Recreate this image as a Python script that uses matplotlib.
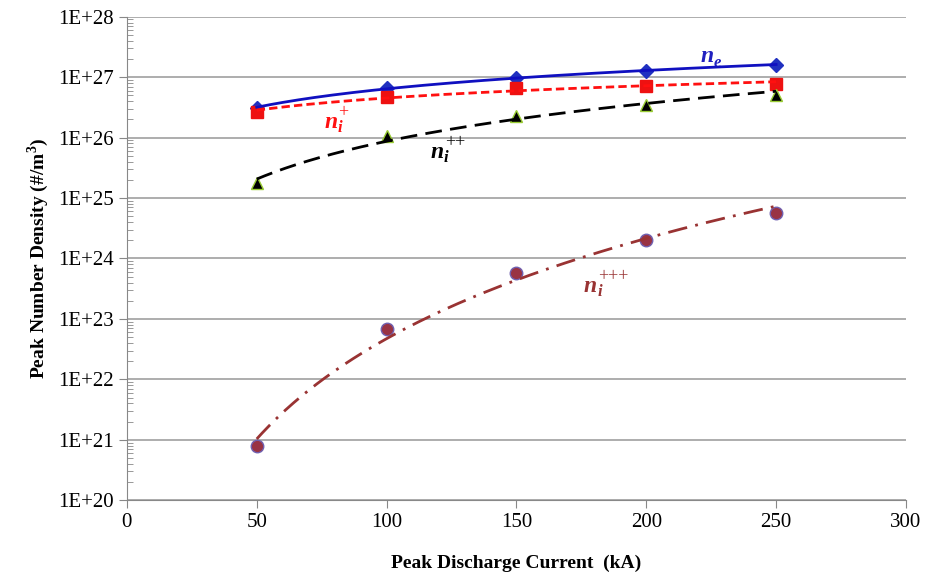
import numpy as np
import matplotlib.pyplot as plt
from matplotlib.ticker import LogLocator, FixedLocator

current = [50, 100, 150, 200, 250]
n_e = [3.1e26, 6.7e26, 9.7e26, 1.28e27, 1.6e27]
n_i1 = [2.7e26, 4.7e26, 6.5e26, 7.2e26, 7.8e26]
n_i2 = [1.77e25, 1.07e26, 2.3e26, 3.5e26, 5.1e26]
n_i3 = [7.8e20, 6.8e22, 5.7e23, 2.0e24, 5.6e24]
ytick_labels = ['1E+20', '1E+21', '1E+22', '1E+23', '1E+24',
                '1E+25', '1E+26', '1E+27', '1E+28']

plt.rcParams['font.family'] = ['Liberation Serif', 'DejaVu Serif']
plt.rcParams['mathtext.fontset'] = 'custom'
plt.rcParams['mathtext.rm'] = 'Liberation Serif:bold'
plt.rcParams['mathtext.bf'] = 'Liberation Serif:bold'

fig = plt.figure(figsize=(9.33, 5.77), dpi=100)
ax = fig.add_axes([0.136, 0.133, 0.835, 0.838])


def power_fit(x, y):
    # Excel style power trendline
    b, a = np.polyfit(np.log10(x), np.log10(y), 1)
    xs = np.linspace(min(x), max(x), 200)
    return xs, 10 ** (a + b * np.log10(xs))


def species_label(x, y, sub, sup, color):
    # n with subscript / superscript, bold italic
    kw = dict(color=color, fontweight='bold', style='italic',
              textcoords='offset points', xycoords='data')
    ax.annotate('n', (x, y), xytext=(0, 0), fontsize=17, ha='left', va='baseline', **kw)
    ax.annotate(sub, (x, y), xytext=(9.5, -3), fontsize=12, ha='left', va='baseline', **kw)
    if sup:
        kw['style'] = 'normal'
        kw['fontweight'] = 'normal'
        ax.annotate(sup, (x, y), xytext=(10, 8), fontsize=13, ha='left', va='baseline', **kw)


series = [
    (n_e, '#1010C0', '-', 'D', '#2030C0', '#2030C0', 7),
    (n_i1, '#FF1010', (0, (3, 1.5)), 's', '#EE1111', '#EE1111', 8),
    (n_i2, '#000000', (0, (6, 3)), '^', '#000000', '#99CC33', 8),
    (n_i3, '#993333', (0, (7, 3, 1, 3)), 'o', '#993344', '#7060B0', 9),
]
for y, lc, ls, mk, mfc, mec, ms in series:
    xs, ys = power_fit(current, y)
    ax.plot(current, y, linestyle='none', marker=mk, markerfacecolor=mfc,
            markeredgecolor=mec, markersize=ms, markeredgewidth=1, zorder=3)
    ax.plot(xs, ys, color=lc, linestyle=ls, linewidth=2, zorder=4)

ax.set_yscale('log')
ax.set_xlim(0, 300)
ax.set_ylim(1e20, 1e28)
ax.set_xticks(np.arange(0, 301, 50))
ax.yaxis.set_major_locator(FixedLocator([10.0 ** k for k in range(20, 29)]))
ax.set_yticklabels(ytick_labels)
ax.yaxis.set_minor_locator(LogLocator(base=10, subs=np.arange(2, 10), numticks=100))
ax.yaxis.set_minor_formatter(plt.NullFormatter())
ax.tick_params(axis='both', labelsize=15, colors='#888888', labelcolor='black',
               length=6, direction='out')
ax.tick_params(axis='y', which='minor', length=4, direction='in', color='#888888')
ax.grid(axis='y', which='major', color='#A0A0A0', linewidth=1.2)
ax.set_axisbelow(True)
for s in ['top', 'right']:
    ax.spines[s].set_visible(False)
for s in ['left', 'bottom']:
    ax.spines[s].set_color('#888888')

ax.set_xlabel('Peak Discharge Current  (kA)', fontsize=14, fontweight='bold', labelpad=16)
ax.set_ylabel('Peak Number Density (#/m$^{3}$)', fontsize=14, fontweight='bold', labelpad=5)

species_label(221, 1.75e27, 'e', '', '#2020C0')
species_label(76, 1.45e26, 'i', '+', '#FF1010')
species_label(117, 4.6e25, 'i', '++', '#000000')
species_label(176, 2.8e23, 'i', '+++', '#993333')

fig.savefig('out.png', dpi=100)
